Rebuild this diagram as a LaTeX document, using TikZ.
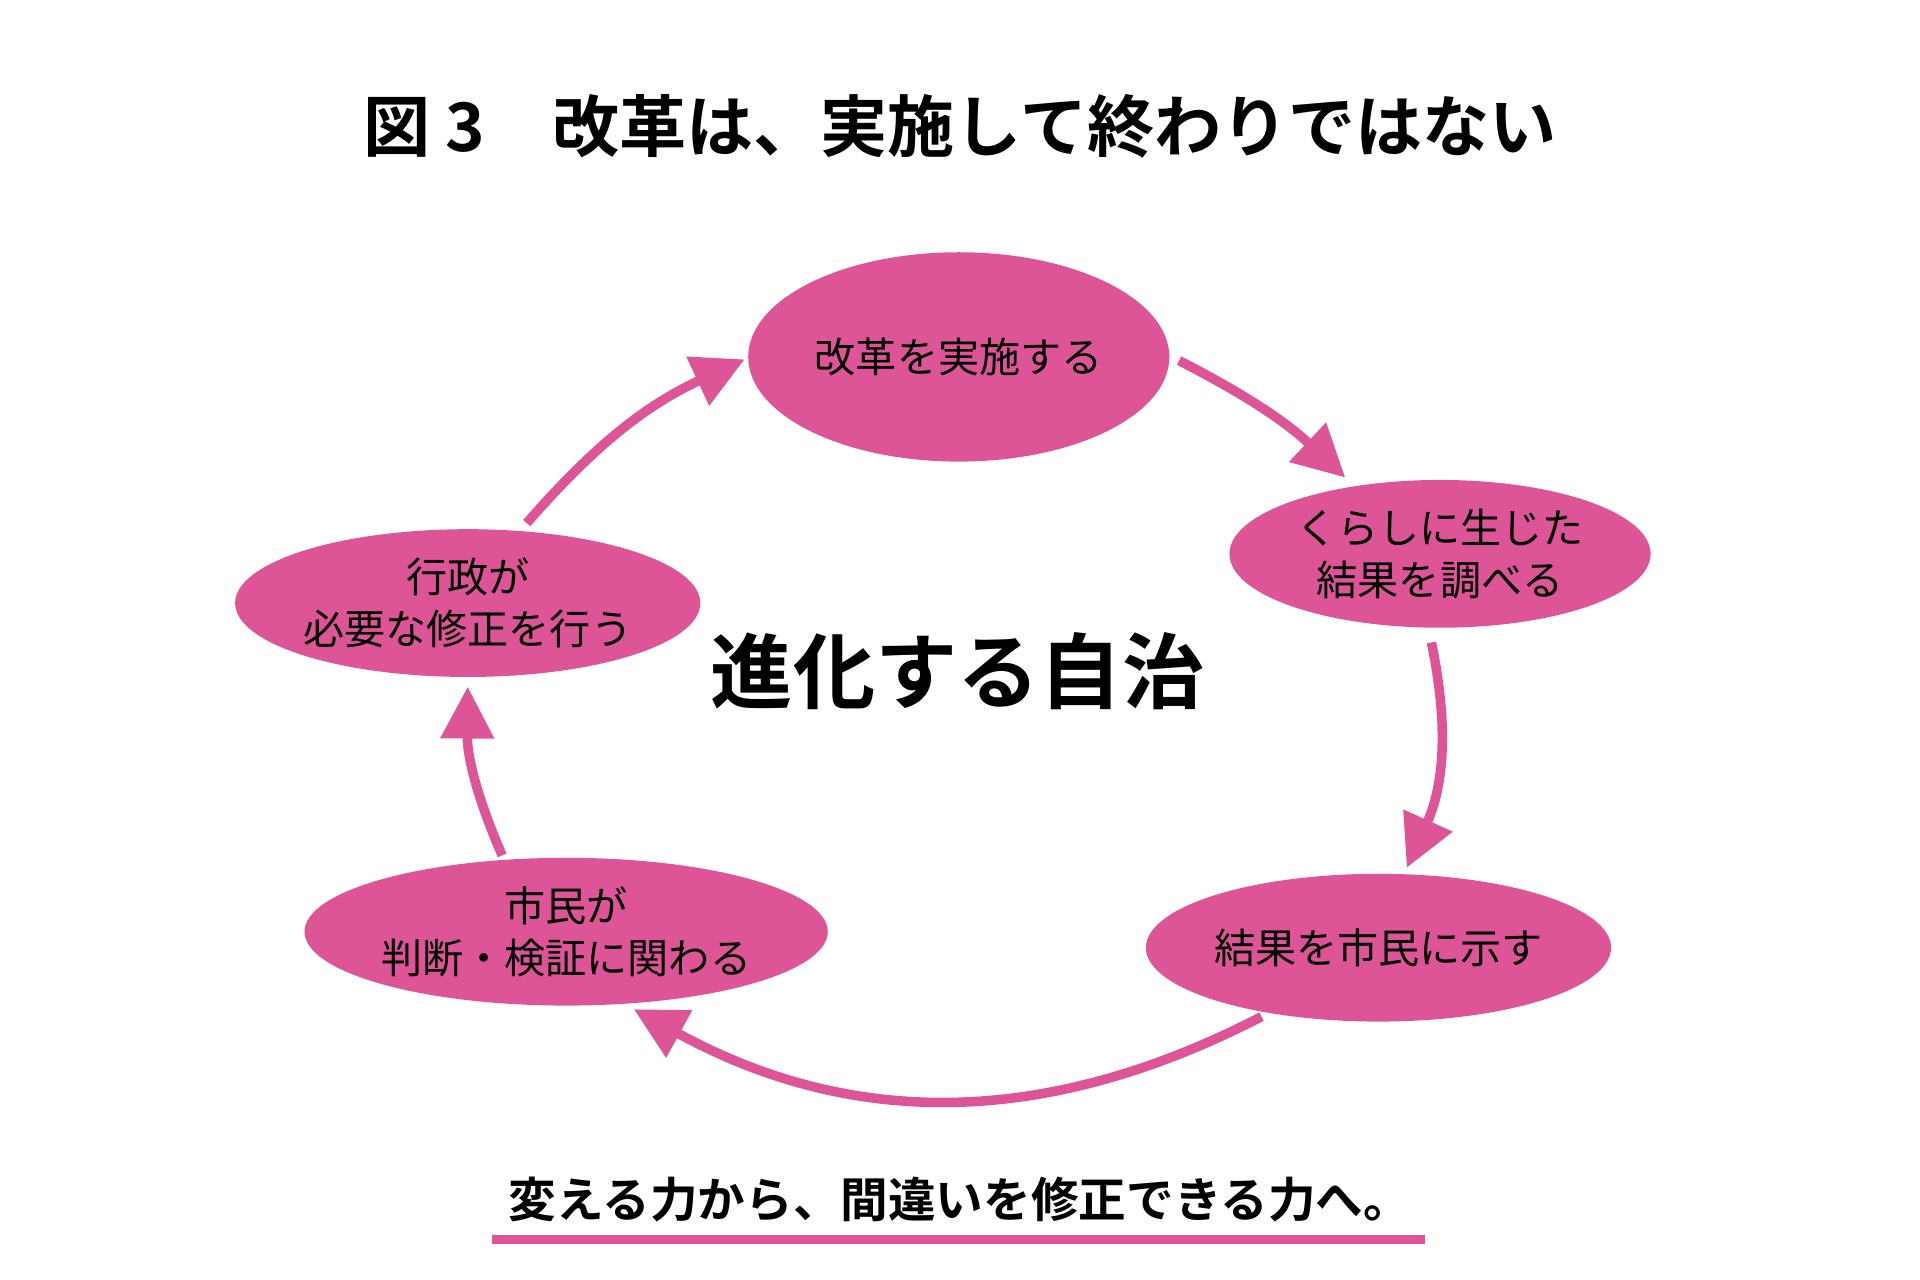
\documentclass[tikz,border=0pt]{standalone}
\usepackage{fontspec}
\setmainfont{Noto Sans CJK JP}[BoldFont={Noto Sans CJK JP Bold}]
\usetikzlibrary{shapes.geometric,arrows.meta,positioning}
\definecolor{pink}{HTML}{DE5597}
\begin{document}
\begin{tikzpicture}[x=0.01cm,y=-0.01cm]
\tikzstyle{stage}=[ellipse, fill=pink, minimum width=3.42cm, minimum height=1.2cm, align=center, font=\fontsize{9.5}{12}\selectfont, inner sep=0pt]
\tikzstyle{flow}=[draw=pink, line width=2.2pt, -{Triangle[length=0.42cm,width=0.42cm]}]
\useasboundingbox (0,0) rectangle (1560,1040);
\node[font=\bfseries\fontsize{15.5}{18}\selectfont] (title) at (780,103) {図 3\quad 改革は、実施して終わりではない};
\node[stage, minimum height=1.7cm] (impl) at (779,290) {改革を実施する};
\node[stage] (survey) at (1170,450) {くらしに生じた\\結果を調べる};
\node[stage] (show) at (1120,770) {結果を市民に示す};
\node[stage] (judge) at (460,757) {市民が\\判断・検証に関わる};
\node[stage] (fix) at (380,490) {行政が\\必要な修正を行う};
\node[font=\bfseries\fontsize{19}{22}\selectfont] (center) at (778,545) {進化する自治};
\node[font=\bfseries\fontsize{11}{13}\selectfont] (motto) at (780,975) {変える力から、間違いを修正できる力へ。};
\draw[pink, line width=2pt] (400,1007) coordinate (ul) -- (1158,1007) coordinate (ur);
% cycle arrows
\coordinate (a1) at (958,293); \coordinate (b1) at (1093,388);
\coordinate (a2) at (1163,522); \coordinate (b2) at (1143,705);
\coordinate (a3) at (1025,826); \coordinate (b3) at (515,820);
\coordinate (a4) at (408,695); \coordinate (b4) at (380,558);
\coordinate (a5) at (428,425); \coordinate (b5) at (605,292);
\draw[flow] (a1) to[bend left=8] (b1);
\draw[flow] (a2) to[bend left=18] (b2);
\draw[flow] (a3) to[bend left=28] (b3);
\draw[flow] (a4) to[bend left=12] (b4);
\draw[flow] (a5) to[bend left=12] (b5);
\end{tikzpicture}
\end{document}
